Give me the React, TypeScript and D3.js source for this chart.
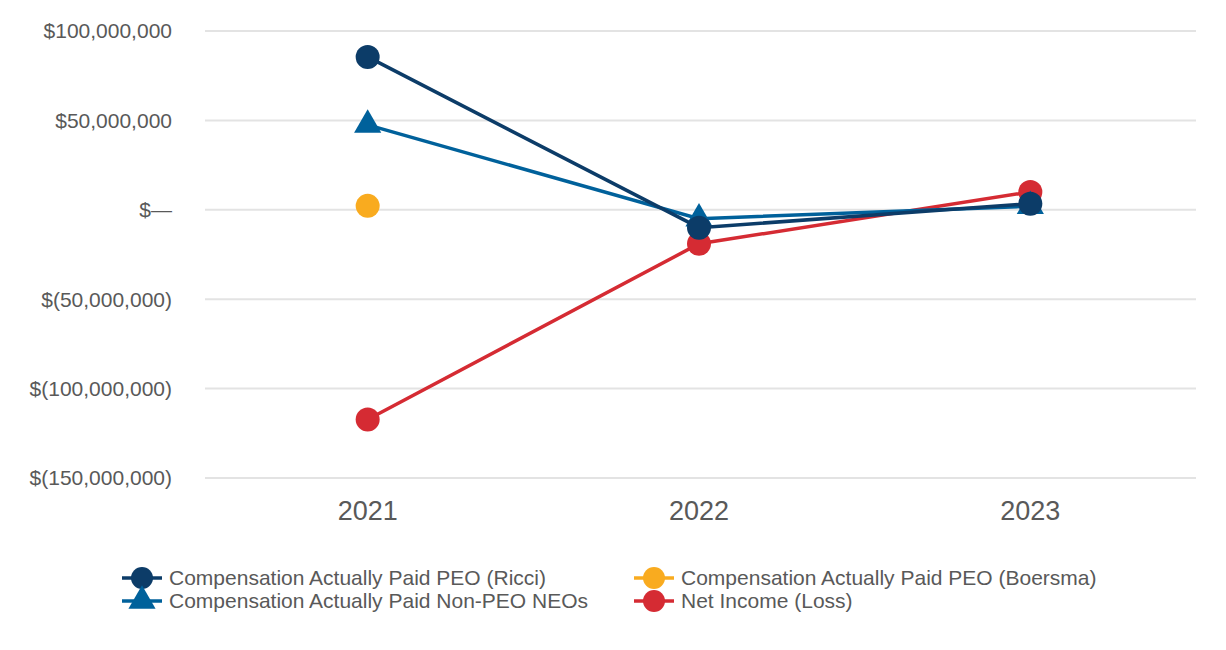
import React, { useEffect, useRef } from "react";
import * as d3 from "d3";

const years = ["2021", "2022", "2023"];
const ricci = [85500000, -10000000, 3400000];
const boersma = [2200000, null, null];
const nonPeo = [47500000, -5000000, 2000000];
const netIncome = [-117300000, -19000000, 10000000];
const yTicks = [100000000, 50000000, 0, -50000000, -100000000, -150000000];

const seriesList = [
  { name: "Compensation Actually Paid PEO (Ricci)", values: ricci, color: "#0c3c68", shape: "circle" },
  { name: "Compensation Actually Paid PEO (Boersma)", values: boersma, color: "#f9ab1f", shape: "circle" },
  { name: "Compensation Actually Paid Non-PEO NEOs", values: nonPeo, color: "#00619b", shape: "triangle" },
  { name: "Net Income (Loss)", values: netIncome, color: "#d52b33", shape: "circle" },
];

const fmt = (v: number) => {
  if (v === 0) return "$\u2014";
  const s = d3.format(",")(Math.abs(v));
  return v < 0 ? `$(${s})` : `$${s}`;
};

const App: React.FC = () => {
  const ref = useRef<SVGSVGElement>(null);

  useEffect(() => {
    if (!ref.current) return;
    const svg = d3.select(ref.current);
    svg.selectAll("*").remove();

    const width = 1226;
    const height = 650;
    const left = 205, right = 1196, top = 31, bottom = 478;

    const x = d3.scalePoint<string>().domain(years).range([202, 1196]).padding(0.5);
    const y = d3.scaleLinear().domain([-150000000, 100000000]).range([bottom, top]);

    const font = "'Liberation Sans', Arial, sans-serif";

    // grid
    svg.append("g")
      .selectAll("line")
      .data(yTicks)
      .enter().append("line")
      .attr("x1", left).attr("x2", right)
      .attr("y1", (d) => y(d)).attr("y2", (d) => y(d))
      .attr("stroke", "#e3e3e3").attr("stroke-width", 2);

    svg.append("g")
      .selectAll("text")
      .data(yTicks)
      .enter().append("text")
      .attr("x", 172).attr("y", (d) => y(d))
      .attr("dy", "0.35em")
      .attr("text-anchor", "end")
      .attr("font-family", font).attr("font-size", 21)
      .attr("fill", "#595959")
      .text((d) => fmt(d));

    svg.append("g")
      .selectAll("text")
      .data(years)
      .enter().append("text")
      .attr("x", (d) => x(d) ?? 0).attr("y", 520)
      .attr("text-anchor", "middle")
      .attr("font-family", font).attr("font-size", 27)
      .attr("fill", "#595959")
      .text((d) => d);

    const order = [3, 1, 2, 0];
    const tri = d3.symbol().type(d3.symbolTriangle).size(320);

    order.forEach((idx) => {
      const s = seriesList[idx];
      const pts = s.values
        .map((v, i) => ({ v, yr: years[i] }))
        .filter((p) => p.v !== null) as { v: number; yr: string }[];
      const line = d3.line<{ v: number; yr: string }>()
        .x((p) => x(p.yr) ?? 0)
        .y((p) => y(p.v));
      svg.append("path")
        .datum(pts)
        .attr("d", line)
        .attr("fill", "none")
        .attr("stroke", s.color)
        .attr("stroke-width", 3.5);
      pts.forEach((p) => {
        if (s.shape === "circle") {
          svg.append("circle")
            .attr("cx", x(p.yr) ?? 0).attr("cy", y(p.v))
            .attr("r", 12).attr("fill", s.color);
        } else {
          svg.append("path")
            .attr("d", tri)
            .attr("transform", `translate(${x(p.yr)},${y(p.v)})`)
            .attr("fill", s.color);
        }
      });
    });

    // legend
    const legendItems = [
      { s: seriesList[0], lx: 122, ly: 578 },
      { s: seriesList[1], lx: 634, ly: 578 },
      { s: seriesList[2], lx: 122, ly: 601 },
      { s: seriesList[3], lx: 634, ly: 601 },
    ];
    legendItems.forEach(({ s, lx, ly }) => {
      const g = svg.append("g");
      g.append("line")
        .attr("x1", lx).attr("x2", lx + 40)
        .attr("y1", ly).attr("y2", ly)
        .attr("stroke", s.color).attr("stroke-width", 3.5);
      if (s.shape === "circle") {
        g.append("circle").attr("cx", lx + 20).attr("cy", ly).attr("r", 11).attr("fill", s.color);
      } else {
        g.append("path").attr("d", tri).attr("transform", `translate(${lx + 20},${ly})`).attr("fill", s.color);
      }
      g.append("text")
        .attr("x", lx + 47).attr("y", ly)
        .attr("dy", "0.35em")
        .attr("font-family", font).attr("font-size", 21)
        .attr("fill", "#595959")
        .text(s.name);
    });

    svg.attr("width", width).attr("height", height);
  }, []);

  return <svg ref={ref} style={{ position: "absolute", left: 0, top: 0 }}></svg>;
};

export default App;
